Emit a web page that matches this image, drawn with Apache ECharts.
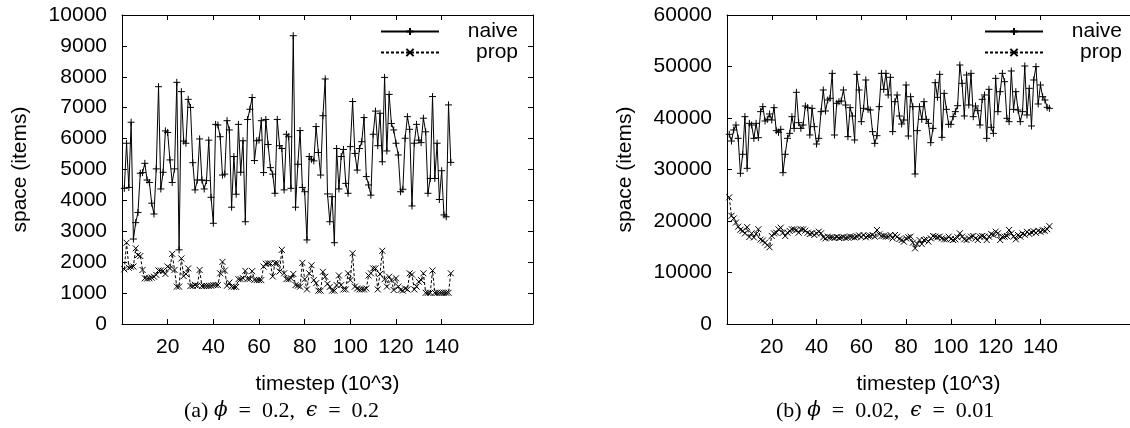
<!DOCTYPE html>
<html>
<head>
<meta charset="utf-8">
<script src="https://cdn.jsdelivr.net/npm/echarts@6/dist/echarts.min.js"></script>
<style>
  html, body { margin: 0; padding: 0; background: #fff; }
  #chart { width: 1130px; height: 428px; }
</style>
</head>
<body>
<div id="chart"></div>
<script>
// (a) phi = 0.2, eps = 0.2  -- one value per 1000 timesteps, starting at 1
const naiveA = [
  4390, 5850, 4420, 6530, 2750, 3280, 3610, 4880, 4900, 5200,
  4660, 4580, 3910, 3560, 5020, 7680, 4370, 4910, 6250, 6200,
  5310, 4580, 5020, 7820, 2400, 7520, 5920, 5850, 7270, 7010,
  5220, 4340, 4660, 5990, 4660, 4370, 4640, 5950, 4100, 3260,
  6460, 6440, 6060, 4820, 4850, 6580, 6280, 3780, 5420, 4200,
  6460, 4910, 5930, 3310, 6620, 6950, 7330, 5290, 5930, 5950,
  6580, 4900, 6620, 5810, 5060, 4850, 4230, 6620, 5770, 5680,
  4340, 6140, 6060, 4390, 9330, 3780, 5170, 6260, 4420, 4280,
  2720, 5420, 5330, 5280, 6390, 5550, 4820, 6740, 7930, 4210,
  3310, 4120, 2630, 5680, 4370, 5420, 5650, 4550, 4230, 5740,
  7200, 5520, 4980, 5680, 5900, 6680, 4770, 4500, 4170, 6140,
  6890, 5770, 6820, 5250, 7980, 5600, 7430, 6490, 6280, 5850,
  5470, 4280, 4360, 6010, 6710, 6300, 3820, 5850, 6460, 5950,
  5870, 6660, 6220, 4230, 4710, 7360, 4710, 5850, 4030, 4960,
  3530, 3470, 7090, 5230
];
const propA = [
  1770, 2630, 1820, 1850, 1860, 2450, 2230, 2200, 1750, 1480,
  1470, 1480, 1500, 1530, 1590, 1730, 1730, 1720, 1620, 1860,
  1800, 2270, 1750, 1210, 1210, 2120, 1550, 1620, 1800, 1230,
  1230, 1260, 1240, 1750, 1230, 1230, 1230, 1230, 1240, 1260,
  1260, 1260, 1640, 2010, 1730, 1240, 1340, 1210, 1200, 1200,
  1450, 1450, 1480, 1720, 1460, 1460, 1710, 1430, 1420, 1420,
  1420, 1860, 1950, 1960, 1960, 1540, 1970, 1970, 1700, 2400,
  1640, 1450, 1450, 1480, 1620, 1260, 1240, 1210, 1980, 1450,
  1120, 1640, 1900, 1420, 1320, 1080, 1080, 1690, 1530, 1300,
  1200, 1080, 1080, 1260, 1570, 1260, 1120, 1120, 1640, 1420,
  2290, 1210, 1150, 1120, 1120, 1120, 1150, 1570, 1640, 1800,
  1800, 1120, 1620, 2370, 1450, 1210, 1530, 1420, 1100, 1480,
  1210, 1100, 1080, 1150, 1120, 1640, 1600, 1120, 1210, 1370,
  1420, 1640, 1010, 1010, 1010, 1730, 1010, 1010, 1010, 1010,
  1010, 1010, 1010, 1640
];

// (b) phi = 0.02, eps = 0.01
const naiveB = [
  36830, 35530, 37670, 38640, 36050, 29260, 32950, 40260, 30230, 38960,
  38640, 36050, 38960, 36180, 41230, 42200, 39420, 39740, 40780, 39610,
  42010, 37540, 37220, 37800, 29380, 32950, 36050, 37020, 40260, 37990,
  44990, 39090, 37990, 38640, 42330, 42010, 36700, 41880, 38320, 34950,
  36050, 41230, 45440, 41360, 43490, 43820, 48670, 36700, 42850, 43170,
  43300, 45440, 42520, 36380, 42010, 40390, 35730, 48480, 45440, 39290,
  41880, 47380, 41680, 41550, 37350, 35080, 36570, 42200, 48670, 45570,
  48670, 44470, 47900, 37350, 43170, 44470, 40390, 38830, 39610, 46410,
  36500, 44140, 42200, 29130, 37540, 42200, 39740, 43170, 39740, 38960,
  35210, 37990, 46860, 44010, 48480, 36250, 44790, 41680, 38770, 38770,
  40260, 41230, 42390, 50290, 46730, 40390, 48350, 42520, 48670, 40260,
  42330, 41420, 38640, 43620, 44470, 36050, 45570, 38190, 37020, 47700,
  41230, 45110, 48670, 47050, 39940, 39290, 49130, 41680, 45110, 41550,
  39290, 41230, 50100, 40580, 45760, 38450, 47380, 49970, 42720, 46410,
  44140, 43490, 42070, 41880
];
const propB = [
  24600, 21000, 20500, 19700, 18900, 18300, 18100, 17600, 18800, 16900,
  17600, 16800, 17500, 18400, 16400, 16200, 15800, 15300, 14900, 17100,
  17600, 17730, 18380, 18700, 17730, 17090, 17730, 18060, 18380, 18380,
  18250, 17730, 18380, 18380, 18120, 17730, 17480, 17610, 17280, 17610,
  17930, 17610, 16830, 16630, 16960, 16830, 16800, 16700, 16900, 16700,
  16800, 16900, 16700, 16800, 17000, 16900, 16800, 17000, 17200, 16900,
  17280, 16830, 17090, 17090, 17280, 16960, 18250, 17410, 17090, 17090,
  16960, 16960, 17280, 16630, 17280, 16960, 16500, 16310, 15990, 16630,
  16830, 16960, 15790, 14690, 15530, 16310, 15530, 16310, 16440, 15990,
  16630, 17090, 16960, 16830, 16960, 16630, 16440, 16440, 16960, 16500,
  16310, 16440, 16830, 17610, 16960, 16440, 16310, 16630, 16960, 17090,
  16630, 16310, 16960, 17090, 16960, 16310, 16960, 17480, 17280, 17930,
  17610, 16310, 16960, 16960, 17090, 18250, 17610, 16960, 16440, 17280,
  16960, 17600, 17300, 17900, 17500, 17800, 18000, 17700, 18100, 17900,
  18200, 18100, 18400, 19000
];

const xTickValues = [20, 40, 60, 80, 100, 120, 140];
const seriesNames = ['naive', 'prop'];

const FONT = 'Liberation Sans';
const FS = 21;

// timestep index -> [x, y]
function toPoints(values) {
    return values.map((v, i) => [i + 1, v]);
}

const plusSymbol = 'path://M5,0L5,10M0,5L10,5';
const crossSymbol = 'path://M0,0L10,10M10,0L0,10';

function makeSeries(name, values, axisIdx) {
    let isNaive = name === 'naive';
    return {
        name: name,
        type: 'line',
        xAxisIndex: axisIdx,
        yAxisIndex: axisIdx,
        data: toPoints(values),
        symbol: isNaive ? plusSymbol : crossSymbol,
        symbolSize: isNaive ? 7 : 6,
        showAllSymbol: true,
        animation: false,
        lineStyle: { color: '#000', width: 1, type: isNaive ? 'solid' : [3, 2] },
        itemStyle: { color: 'rgba(0,0,0,0)', borderColor: '#000', borderWidth: 1 },
        emphasis: { disabled: true }
    };
}

// bottom (labelled) x axis + mirrored top one
function xAxes(grid) {
    return [
        {
            type: 'value', gridIndex: grid, min: 0, max: 180, interval: 20,
            name: 'timestep (10^3)', nameLocation: 'middle', nameGap: 50,
            nameTextStyle: { fontFamily: FONT, fontSize: FS, color: '#000' },
            axisLine: { onZero: false, lineStyle: { color: '#000', width: 1 } },
            axisTick: { inside: true, length: 5, customValues: xTickValues, lineStyle: { color: '#000' } },
            axisLabel: { customValues: xTickValues, margin: 13, fontFamily: FONT, fontSize: FS, color: '#000' },
            splitLine: { show: false }
        },
        {
            type: 'value', gridIndex: grid, position: 'top', min: 0, max: 180, interval: 20,
            axisLine: { show: true, onZero: false, lineStyle: { color: '#000', width: 1 } },
            axisTick: { inside: true, length: 5, customValues: xTickValues, lineStyle: { color: '#000' } },
            axisLabel: { show: false },
            splitLine: { show: false }
        }
    ];
}

function yAxes(grid, max, step, rightTicks) {
    return [
        {
            type: 'value', gridIndex: grid, min: 0, max: max, interval: step,
            name: 'space (items)', nameLocation: 'middle', nameGap: 91,
            nameTextStyle: { fontFamily: FONT, fontSize: FS, color: '#000' },
            axisLine: { show: true, onZero: false, lineStyle: { color: '#000', width: 1 } },
            axisTick: { show: true, inside: true, length: 5, lineStyle: { color: '#000' } },
            axisLabel: {
                margin: 15, fontFamily: FONT, fontSize: FS, color: '#000',
                formatter: function (v) { return String(v); }
            },
            splitLine: { show: false }
        },
        {
            type: 'value', gridIndex: grid, position: 'right', min: 0, max: max, interval: step,
            axisLine: { show: true, onZero: false, lineStyle: { color: '#000', width: 1 } },
            axisTick: { show: rightTicks, inside: true, length: 5, lineStyle: { color: '#000' } },
            axisLabel: { show: false },
            splitLine: { show: false }
        }
    ];
}

function legendAt(left) {
    return {
        left: left, top: 21, orient: 'vertical', padding: 0,
        data: seriesNames,
        itemWidth: 58, itemHeight: 9, itemGap: 0,
        selectedMode: false,
        formatter: function (name) { return '{r|' + name + '}'; },
        textStyle: {
            rich: { r: { width: 74, align: 'right', fontFamily: FONT, fontSize: FS, lineHeight: 22, color: '#000' } }
        }
    };
}

// figure caption under each panel, TeX-like math
function caption(x, tag, phi, eps) {
    return {
        type: 'text', left: x, top: 400,
        style: {
            text: '{n|(' + tag + ') }{i|ϕ}{n|  =  ' + phi + ',  }{i|ϵ}{n|  =  ' + eps + '}',
            rich: {
                n: { fontFamily: 'Liberation Serif', fontSize: 22, color: '#000' },
                i: { fontFamily: 'DejaVu Serif', fontStyle: 'italic', fontSize: 20, color: '#000' }
            }
        }
    };
}

let myChart = echarts.init(document.getElementById('chart'), null, { renderer: 'canvas' });

let option = {
    animation: false,
    backgroundColor: '#fff',
    grid: [
        { left: 122, top: 15, width: 411, height: 309 },
        { left: 727, top: 15, width: 410, height: 309 }
    ],
    xAxis: xAxes(0).concat(xAxes(1)),
    yAxis: yAxes(0, 10000, 1000, true).concat(yAxes(1, 60000, 10000, false)),
    legend: [legendAt(380), legendAt(984)],
    series: [
        makeSeries('naive', naiveA, 0),
        makeSeries('prop', propA, 0),
        makeSeries('naive', naiveB, 2),
        makeSeries('prop', propB, 2)
    ],
    graphic: [
        caption(184, 'a', '0.2', '0.2'),
        caption(776, 'b', '0.02', '0.01')
    ]
};

option && myChart.setOption(option);
</script>
</body>
</html>
